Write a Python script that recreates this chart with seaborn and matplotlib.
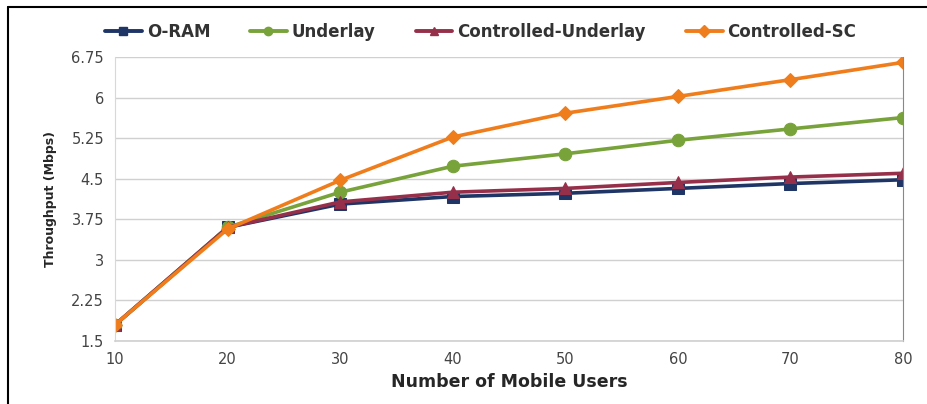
import numpy as np
import pandas as pd
import matplotlib
matplotlib.use('Agg')
import matplotlib.pyplot as plt
from matplotlib.lines import Line2D
import seaborn as sns

users = [10, 20, 30, 40, 50, 60, 70, 80]
oram = [1.8, 3.6, 4.03, 4.17, 4.23, 4.32, 4.41, 4.48]
underlay = [1.8, 3.6, 4.25, 4.73, 4.96, 5.21, 5.42, 5.63]
ctrl_underlay = [1.8, 3.6, 4.07, 4.25, 4.32, 4.43, 4.53, 4.6]
ctrl_sc = [1.8, 3.57, 4.47, 5.27, 5.71, 6.02, 6.33, 6.65]

series_names = ['O-RAM', 'Underlay', 'Controlled-Underlay', 'Controlled-SC']
y_ticks = [1.5, 2.25, 3, 3.75, 4.5, 5.25, 6, 6.75]
y_ticklabels = ['1.5', '2.25', '3', '3.75', '4.5', '5.25', '6', '6.75']

df = pd.DataFrame({
    'users': users * 4,
    'throughput': oram + underlay + ctrl_underlay + ctrl_sc,
    'series': np.repeat(series_names, len(users)),
})

colors = {'O-RAM': '#1f3566', 'Underlay': '#78a23a',
          'Controlled-Underlay': '#96304a', 'Controlled-SC': '#f07d1c'}
markers = {'O-RAM': 's', 'Underlay': 'o',
           'Controlled-Underlay': '^', 'Controlled-SC': 'D'}

sns.set_style('white')
plt.rcParams['font.family'] = ['DejaVu Sans']

fig = plt.figure(figsize=(9.28, 4.04), dpi=100)
ax = fig.add_axes([0.124, 0.156, 0.849, 0.703])

for name in series_names:
    sub = df[df['series'] == name]
    sns.lineplot(data=sub, x='users', y='throughput', ax=ax, color=colors[name],
                 marker=markers[name], markersize=9 if markers[name] != 'D' else 7,
                 markeredgecolor=colors[name], linewidth=2.6, legend=False)

ax.set_xlim(10, 80)
ax.set_ylim(1.5, 6.75)
ax.set_xticks(users)
ax.set_yticks(y_ticks)
ax.set_yticklabels(y_ticklabels)
ax.tick_params(axis='both', labelsize=10.5, colors='#444444', length=0, pad=8)
ax.grid(axis='y', color='#d0d0d0', linewidth=1)
ax.set_axisbelow(True)
ax.spines['top'].set_visible(False)
ax.spines['left'].set_color('#d8d8d8')
ax.spines['bottom'].set_color('#cfcfcf')
ax.spines['right'].set_color('#888888')
ax.spines['bottom'].set_linewidth(1.2)

ax.set_xlabel('Number of Mobile Users', fontsize=12.5, fontweight='bold', labelpad=4)
ax.set_ylabel('Throughput (Mbps)', fontsize=9, fontweight='bold', labelpad=10)

handles = [Line2D([0], [0], color=colors[n], marker=markers[n], linewidth=2.8,
                  markersize=6) for n in series_names]
fig.legend(handles, series_names, loc='center', bbox_to_anchor=(0.518, 0.921),
           ncol=4, frameon=False, prop={'size': 12, 'weight': 'bold'},
           handlelength=2.2, columnspacing=2.4, handletextpad=0.3,
           labelcolor='#333333')

# outer border (left and top)
fig.add_artist(Line2D([8 / 928, 8 / 928], [0, 1 - 7 / 404], color='black', lw=1.5))
fig.add_artist(Line2D([8 / 928, 1], [1 - 7 / 404, 1 - 7 / 404], color='black', lw=1.5))

fig.savefig('out.png', dpi=100)
